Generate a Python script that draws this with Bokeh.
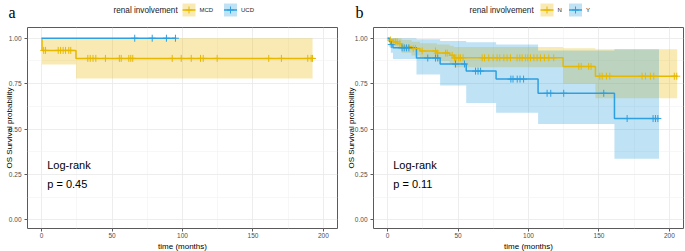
import numpy as np
from bokeh.plotting import figure
from bokeh.layouts import row, column
from bokeh.models import Range1d, FixedTicker, PrintfTickFormatter, Label
from bokeh.core.properties import value
from bokeh.embed import file_html
from bokeh.resources import INLINE

YELLOW = "#E7B800"
BLUE = "#2E9FDF"

# ---------------- data ----------------
x_ticks = [0, 50, 100, 150, 200]
x_minor = [25, 75, 125, 175]
y_ticks = [0.0, 0.25, 0.5, 0.75, 1.0]
y_minor = [0.125, 0.375, 0.625, 0.875]

legend_title = "renal involvement"
x_title = "time (months)"
y_title = "OS Survival probability"

# panel a
a_groups = ["MCD", "UCD"]
mcd_time = [0.0, 0.3, 24.4, 192.3]
mcd_surv = [1.0, 0.933, 0.889, 0.889]
mcd_lower = [1.0, 0.855, 0.779, 0.779]
mcd_upper = [1.0, 1.0, 1.0, 1.0]
mcd_censor = [1.5, 2.8, 11.8, 13.5, 15.3, 17.0, 19.3, 20.7, 32.8, 34.5, 36.5,
              38.5, 45.3, 55.2, 56.5, 61.9, 63.3, 64.7, 92.7, 99.1, 106.2,
              112.8, 114.7, 124.6, 161.2, 170.2, 188.9, 191.3, 192.3]
ucd_time = [0.0, 95.5]
ucd_surv = [1.0, 1.0]
ucd_lower = [1.0, 1.0]
ucd_upper = [1.0, 1.0]
ucd_censor = [66.1, 78.5, 88.6, 95.0]
a_pvalue = "p = 0.45"

# panel b
b_groups = ["N", "Y"]
n_time = [0.0, 1.5, 4.0, 7.0, 10.0, 17.0, 23.0, 35.0, 44.0, 47.0, 124.6, 147.5, 205.5]
n_surv = [1.0, 0.99, 0.98, 0.97, 0.955, 0.943, 0.93, 0.918, 0.906, 0.892, 0.845, 0.791, 0.791]
n_lower = [1.0, 0.97, 0.955, 0.94, 0.92, 0.905, 0.89, 0.875, 0.86, 0.84, 0.75, 0.67, 0.67]
n_upper = [1.0, 1.0, 1.0, 1.0, 0.99, 0.98, 0.972, 0.965, 0.958, 0.952, 0.945, 0.94, 0.94]
n_censor = [2.0, 4.4, 5.6, 6.8, 8.7, 18.2, 19.8, 24.5, 34.0, 35.2, 41.1, 42.3,
            45.8, 47.5, 48.5, 50.5, 51.7, 53.6, 67.1, 68.8, 71.8, 74.9, 77.7,
            79.6, 82.5, 84.8, 87.2, 91.9, 93.8, 95.5, 97.8, 99.5, 101.4, 103.8,
            106.1, 108.5, 111.3, 114.4, 117.9, 135.7, 137.4, 142.7, 144.4,
            150.6, 152.3, 155.3, 157.7, 180.6, 183.0, 186.5, 188.9, 203.5, 205.2]
y_time = [0.0, 1.2, 2.3, 3.8, 20.5, 37.3, 55.8, 77.0, 106.8, 161.0, 192.6]
y_surv = [1.0, 0.982, 0.965, 0.947, 0.891, 0.858, 0.819, 0.775, 0.697, 0.558, 0.558]
y_lower = [1.0, 0.95, 0.92, 0.885, 0.80, 0.74, 0.643, 0.59, 0.528, 0.337, 0.337]
y_upper = [1.0, 1.0, 1.0, 1.0, 0.995, 0.985, 0.978, 0.965, 0.932, 0.94, 0.94]
y_censor = [2.6, 10.3, 11.8, 13.4, 15.1, 28.5, 34.0, 35.6, 48.2, 54.6, 62.4,
            64.2, 66.0, 87.5, 89.0, 92.0, 94.0, 96.5, 113.2, 115.8, 125.0,
            153.4, 170.0, 188.4, 190.1, 191.8]
b_pvalue = "p = 0.11"

FONT = "Liberation Sans"
HEADER_H = 25
FOOTER_H = 11
MAIN_H = 251 - HEADER_H - FOOTER_H


def surv_at(times, surv, pts):
    idx = np.searchsorted(np.asarray(times), np.asarray(pts), side="right") - 1
    return [surv[i] for i in idx]


def blank_fig(width, height):
    f = figure(width=width, height=height, x_range=Range1d(0, width),
               y_range=Range1d(height, 0), output_backend="svg",
               toolbar_location=None, x_axis_type=None, y_axis_type=None,
               min_border=0)
    f.outline_line_color = None
    f.grid.visible = False
    f.background_fill_color = "white"
    f.border_fill_color = "white"
    return f


def make_header(width, letter, letter_x, title_x, key_x, groups, colors):
    h = blank_fig(width, HEADER_H)
    h.text(x=[letter_x], y=[12], text=[letter],
           text_font=value("Liberation Serif"), text_font_size="16px",
           text_baseline="alphabetic", text_color="black")
    h.text(x=[title_x], y=[9.5], text=[legend_title], text_font=value(FONT),
           text_font_size="8.2px", text_baseline="middle", text_color="#1a1a1a")
    kx = key_x
    for g, col in zip(groups, colors):
        h.quad(left=kx, right=kx + 13, top=3, bottom=16, fill_color=col,
               fill_alpha=0.3, line_color=None)
        h.segment(x0=kx, y0=9.5, x1=kx + 13, y1=9.5, line_color=col,
                  line_width=1.5)
        h.scatter(x=[kx + 6.5], y=[9.5], marker="cross", size=7,
                  line_color=col, line_width=1)
        h.text(x=[kx + 17], y=[9.6], text=[g], text_font=value(FONT),
               text_font_size="6px", text_baseline="middle",
               text_color="#1a1a1a")
        kx += 13 + 4 + 6.5 * len(g) + 5
    return h


def make_footer(width, center_x):
    f = blank_fig(width, FOOTER_H)
    f.text(x=[center_x], y=[4.5], text=[x_title], text_font=value(FONT),
           text_font_size="8px", text_align="center", text_baseline="middle",
           text_color="black")
    return f


def make_main(width, left, right, ylab_standoff, curves, pvalue):
    p = figure(width=width, height=MAIN_H, x_range=Range1d(-10, 210),
               y_range=Range1d(-0.047, 1.059), output_backend="svg",
               toolbar_location=None, min_border_left=left,
               min_border_right=right, min_border_top=2,
               min_border_bottom=12)
    p.background_fill_color = "white"
    p.border_fill_color = "white"
    p.outline_line_color = "#5a5a5a"
    p.outline_line_width = 1

    p.xaxis.ticker = FixedTicker(ticks=x_ticks, minor_ticks=x_minor)
    p.yaxis.ticker = FixedTicker(ticks=y_ticks, minor_ticks=y_minor)
    p.yaxis.formatter = PrintfTickFormatter(format="%.2f")
    for ax in (p.xaxis[0], p.yaxis[0]):
        ax.axis_line_color = None
        ax.major_tick_line_color = "#5a5a5a"
        ax.major_tick_out = 3
        ax.major_tick_in = 0
        ax.minor_tick_line_color = None
        ax.major_label_text_font = FONT
        ax.major_label_text_font_size = "6.5px"
        ax.major_label_text_color = "#4D4D4D"
    p.yaxis.major_label_standoff = 2
    p.xaxis.major_label_standoff = 0
    p.yaxis.axis_label = y_title
    p.yaxis.axis_label_text_font = FONT
    p.yaxis.axis_label_text_font_size = "8px"
    p.yaxis.axis_label_text_font_style = "normal"
    p.yaxis.axis_label_text_color = "black"
    p.yaxis.axis_label_standoff = ylab_standoff
    for g in (p.xgrid[0], p.ygrid[0]):
        g.grid_line_color = "#E8E8E8"
        g.grid_line_width = 0.8
        g.minor_grid_line_color = "#F2F2F2"
        g.minor_grid_line_width = 0.6

    for (t, s, lo, hi, cen, col) in curves:
        p.varea_step(x=t, y1=lo, y2=hi, step_mode="after",
                     fill_color=col, fill_alpha=0.3)
    for (t, s, lo, hi, cen, col) in curves:
        p.step(x=t, y=s, mode="after", line_color=col, line_width=1.5)
    for (t, s, lo, hi, cen, col) in curves:
        p.scatter(x=cen, y=surv_at(t, s, cen), marker="cross",
                  size=7, line_color=col, line_width=1)

    p.add_layout(Label(x=4.0, y=0.300, text="Log-rank", text_font=FONT,
                       text_font_size="11px", text_baseline="middle",
                       text_color="black"))
    p.add_layout(Label(x=4.0, y=0.199, text=pvalue, text_font=FONT,
                       text_font_size="11px", text_baseline="middle",
                       text_color="black"))
    return p


colors = [YELLOW, BLUE]
panel_a = column(
    make_header(342, "a", 8, 113, 182, a_groups, colors),
    row(make_main(342, 27, 5, -8,
                  [(mcd_time, mcd_surv, mcd_lower, mcd_upper, mcd_censor, YELLOW),
                   (ucd_time, ucd_surv, ucd_lower, ucd_upper, ucd_censor, BLUE)],
                  a_pvalue)),
    make_footer(342, 182))
panel_b = column(
    make_header(343, "b", 13, 127, 198, b_groups, colors),
    row(make_main(343, 31, 2, -4,
                  [(n_time, n_surv, n_lower, n_upper, n_censor, YELLOW),
                   (y_time, y_surv, y_lower, y_upper, y_censor, BLUE)],
                  b_pvalue)),
    make_footer(343, 186))

layout = row(panel_a, panel_b)
open("out.html", "w").write(file_html(layout, INLINE))
